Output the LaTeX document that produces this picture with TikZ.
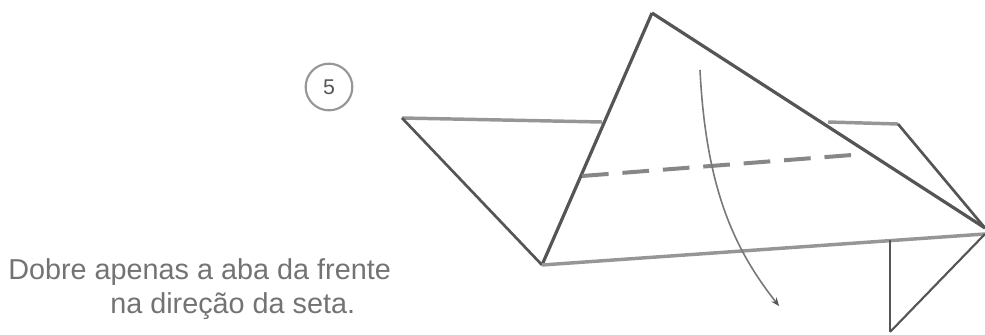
\documentclass[tikz,border=0pt]{standalone}
\usepackage{fontspec}
\setmainfont{Liberation Sans}
\usetikzlibrary{arrows.meta}
\definecolor{crease}{RGB}{85,85,85}
\definecolor{paper}{RGB}{150,150,150}
\definecolor{caption}{RGB}{115,115,115}
\tikzset{
  >={Stealth[length=2.2mm,width=1.8mm,color=crease]},
  edge dark/.style={draw=crease,line width=2pt},
  edge soft/.style={draw=paper,line width=2.6pt},
  fold/.style={draw=paper!90!black,line width=3pt,dash pattern=on 20pt off 10.4pt},
  tag/.style={font=\fontsize{21.6}{26}\selectfont,text=caption,anchor=west,inner sep=0pt},
}
\begin{document}
\begin{tikzpicture}[x=0.75pt,y=-0.75pt]
  \useasboundingbox (0,0) rectangle (985,335);
  % corners of the folded paper
  \coordinate (apex) at (652,13);
  \coordinate (tip) at (985,228);
  \coordinate (low) at (542,265);
  \coordinate (left) at (402,118);
  \coordinate (leftin) at (602,122);
  \coordinate (flapa) at (828,122);
  \coordinate (flapb) at (898,124);
  \coordinate (tipb) at (985,234);
  \coordinate (tailtop) at (890,240);
  \coordinate (tail) at (890,332);
  \coordinate (folda) at (582,176);
  \coordinate (foldb) at (852,155);
  \coordinate (turn) at (700,70);
  \coordinate (turnend) at (779,306);
  % label and step number
  \node[circle,draw=paper,line width=1.6pt,minimum size=35pt,inner sep=0pt,
    font=\fontsize{16}{18}\selectfont,text=crease] (num) at (329,87) {5};
  \node[tag] (line1) at (8,272) {Dobre apenas a aba da frente};
  \node[tag] (line2) at (110,306) {na direção da seta.};
  % paper edges
  \draw[edge soft] (left) -- (leftin);
  \draw[edge dark] (left) -- (low);
  \draw[edge dark,line width=2.4pt] (apex) -- (low);
  \draw[edge dark,line width=2.4pt] (apex) -- (tip);
  \draw[edge soft] (flapa) -- (flapb);
  \draw[edge dark] (flapb) -- (tip);
  \draw[edge soft] (low) -- (tipb);
  \draw[edge dark] (tailtop) -- (tail);
  \draw[edge dark,line width=1.6pt] (tail) -- (tipb);
  \draw[fold] (folda) -- (foldb);
  % arrow of the fold
  \draw[->,draw=paper!80!black,line width=1.2pt] (turn) .. controls (706,190) and (735,250) .. (turnend);
\end{tikzpicture}
\end{document}
